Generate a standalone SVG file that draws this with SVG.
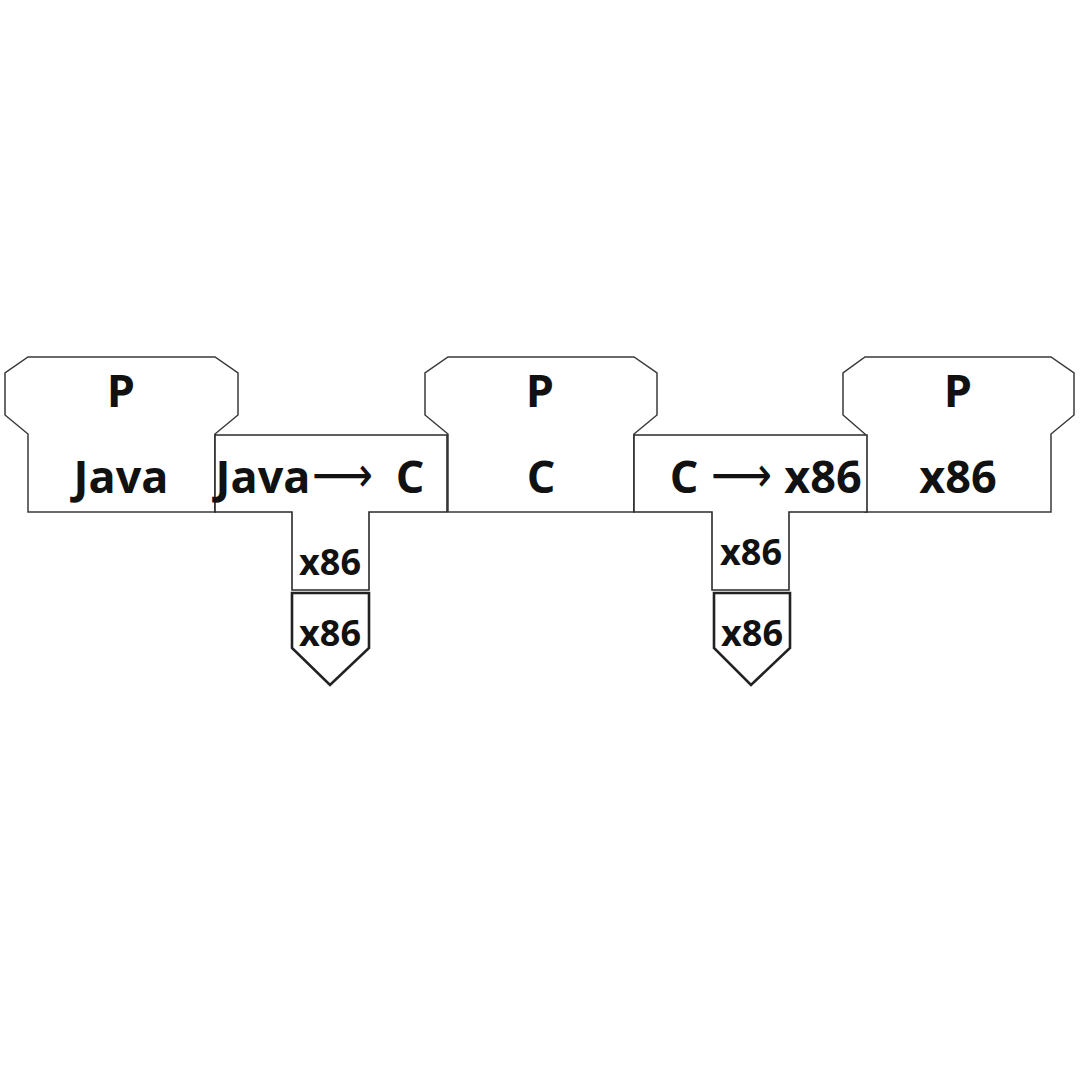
<svg xmlns="http://www.w3.org/2000/svg" width="1080" height="1080" viewBox="0 0 1080 1080">
<style>
.prog{fill:#fff;stroke:#3a3a3a;stroke-width:1.5;stroke-linejoin:miter}
.comp{fill:#fff;stroke:#2a2a2a;stroke-width:1.6}
.mach{fill:#fff;stroke:#222;stroke-width:2.6}
.t{font-family:"Open Sans","Liberation Sans",sans-serif;font-weight:700;fill:#111;text-anchor:middle}
.big{font-size:45px}
.sm{font-size:36px}
.arr{font-family:"DejaVu Sans",sans-serif;font-weight:400;font-size:50px;fill:#111}
</style>
<rect width="1080" height="1080" fill="#fff"/>
<g id="program-java">
<path class="prog" d="M28,357 L215,357 L238,373 L238,415 L215,434 L215,512 L28,512 L28,434 L5,415 L5,373 Z"/>
<text class="t big" x="121" y="407">P</text>
<text class="t big" x="121" y="493">Java</text>
</g>
<g id="program-c">
<path class="prog" d="M448,357 L634,357 L657,373 L657,415 L634,434 L634,512 L448,512 L448,434 L425,415 L425,373 Z"/>
<text class="t big" x="540" y="407">P</text>
<text class="t big" x="541" y="493">C</text>
</g>
<g id="program-x86">
<path class="prog" d="M865,357 L1051,357 L1074,373 L1074,415 L1051,434 L1051,512 L865,512 L865,434 L843,415 L843,373 Z"/>
<text class="t big" x="958" y="407">P</text>
<text class="t big" x="958" y="493">x86</text>
</g>
<g id="compiler-java-c">
<path class="comp" d="M215,435 L447,435 L447,512 L369,512 L369,590 L292,590 L292,512 L215,512 Z"/>
<text class="t big" x="263" y="493">Java</text>
<text class="arr" x="312" y="492" textLength="61" lengthAdjust="spacingAndGlyphs">⟶</text>
<text class="t big" x="410" y="493">C</text>
<text class="t sm" x="330" y="575">x86</text>
</g>
<g id="compiler-c-x86">
<path class="comp" d="M634,435 L867,435 L867,512 L789,512 L789,590 L712,590 L712,512 L634,512 Z"/>
<text class="t big" x="684" y="493">C</text>
<text class="arr" x="711" y="492" textLength="61" lengthAdjust="spacingAndGlyphs">⟶</text>
<text class="t big" x="823" y="493">x86</text>
<text class="t sm" x="751" y="565">x86</text>
</g>
<g id="machine-1">
<path class="mach" d="M292,593 L369,593 L369,648 L330,685 L292,648 Z"/>
<text class="t sm" x="330" y="646">x86</text>
</g>
<g id="machine-2">
<path class="mach" d="M714,593 L790,593 L790,648 L751,685 L714,648 Z"/>
<text class="t sm" x="752" y="646">x86</text>
</g>
<g id="connectors"></g>
</svg>
